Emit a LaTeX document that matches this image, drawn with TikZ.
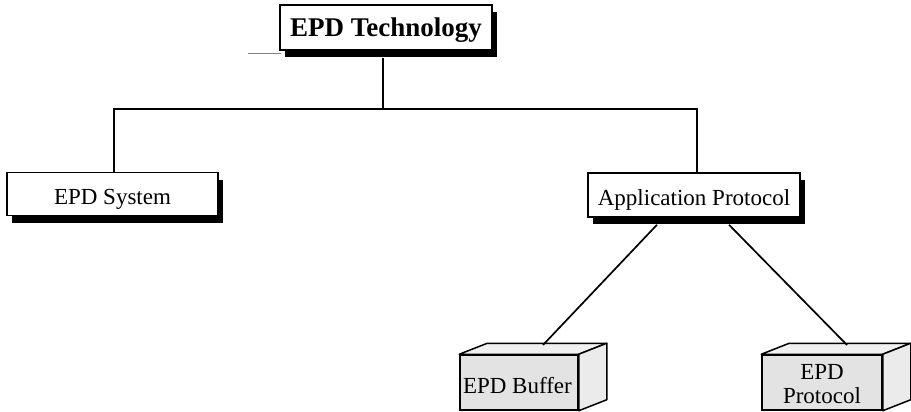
\documentclass[tikz,border=0pt]{standalone}
\usepackage{fontspec}
\setmainfont{Liberation Serif}
\usetikzlibrary{calc,shadows}
\begin{document}
\begin{tikzpicture}[x=1pt,y=-1pt,
  flatbox/.style={draw, line width=1.5pt, fill=white, inner sep=0pt,
    font=\fontsize{23}{26}\selectfont, text height=20pt, text depth=0pt,
    drop shadow={shadow xshift=5pt, shadow yshift=-7pt, fill=black, opacity=1}},
  cubeface/.style={draw, line width=1.5pt, fill=gray!22, inner sep=0pt,
    minimum height=55pt, font=\fontsize{23}{24}\selectfont},
  topface/.style={draw, line width=1.5pt, fill=gray!12, line join=round},
  sideface/.style={draw, line width=1.5pt, fill=gray!16, line join=round},
  conn/.style={line width=1.7pt}]
\useasboundingbox (0,0) rectangle (911,412);

% top
\node[flatbox, minimum width=212pt, minimum height=45pt, text height=19pt,
  font=\fontsize{27}{30}\selectfont\bfseries] (tech) at (386,27.5) {EPD Technology};
\draw[gray, line width=0.8pt] (248,53) -- (281,53);

% second level
\node[flatbox, minimum width=211pt, minimum height=43pt] (sys) at (112.5,194) {EPD System};
\node[flatbox, minimum width=212pt, minimum height=44pt] (ap) at (694,195) {Application Protocol};

% tree connectors
\coordinate (bus) at (383,109);
\draw[conn] (tech.south -| bus) ++(0,7) -- (bus);
\draw[conn] (sys.north -| 114,0) -- (114,109) -- (697,109) -- (ap.north -| 697,0);

% 3D boxes
\node[cubeface, minimum width=118pt, text height=21pt, text depth=0pt]
  (buf) at (519,382.5) {\makebox[110pt][l]{\kern-1pt EPD Buffer}};
\draw[topface] (buf.north west) -- ++(28,-11) -- ($(buf.north east)+(28,-11)$) -- (buf.north east) -- cycle;
\draw[sideface] (buf.north east) -- ++(28,-11) -- ($(buf.south east)+(28,-11)$) -- (buf.south east) -- cycle;

\node[cubeface, minimum width=120pt, align=center,
  text height=41pt, text depth=0pt] (proto) at (822,382.5) {EPD\\Protocol};
\draw[topface] (proto.north west) -- ++(28,-11) -- ($(proto.north east)+(28,-11)$) -- (proto.north east) -- cycle;
\draw[sideface] (proto.north east) -- ++(28,-11) -- ($(proto.south east)+(28,-11)$) -- (proto.south east) -- cycle;

\coordinate (buftop) at (543,345);
\coordinate (prototop) at (847,345);
\draw[conn] ($(ap.south)+(-37,7)$) -- (buftop);
\draw[conn] ($(ap.south)+(35,7)$) -- (prototop);
\end{tikzpicture}
\end{document}
